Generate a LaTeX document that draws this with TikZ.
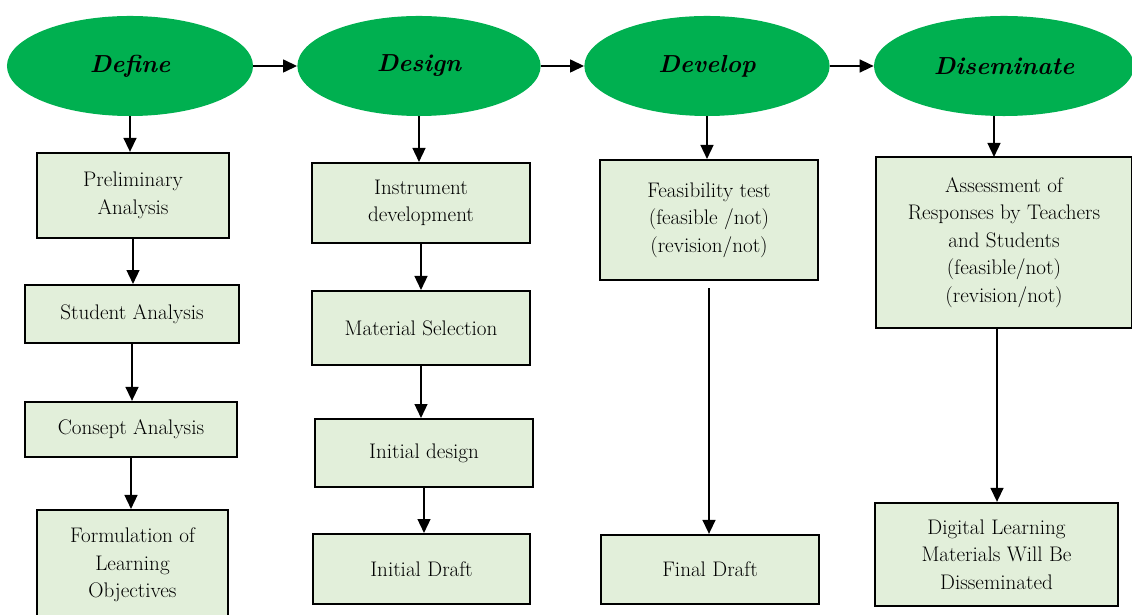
\documentclass[tikz,border=0pt]{standalone}
\usepackage{tikz}
\usetikzlibrary{shapes.geometric,arrows.meta}

\definecolor{stagegreen}{HTML}{00B050}
\definecolor{taskgreen}{HTML}{E2EFDA}

\begin{document}
\begin{tikzpicture}[x=0.025cm,y=-0.025cm,
    stage/.style={ellipse,fill=stagegreen,inner sep=0pt,minimum height=2.5cm,
        font=\fontsize{17.5}{21}\selectfont\bfseries\itshape},
    task/.style={rectangle,draw,line width=1.4pt,fill=taskgreen,align=center,
        inner sep=2pt,font=\fontsize{15}{19.5}\selectfont},
    flow/.style={line width=1.4pt,-{Triangle[length=0.35cm,width=0.32cm]}}]
        % Page size:
        % The picture is cut to the frame, so the last boxes run off the edge
        \useasboundingbox (0,0) rectangle (1132,615);
        \clip (0,0) rectangle (1132,615);

        % Stages:
        \node [stage,minimum width=6.15cm] (def) at (130,66)  {Define};
        \node [stage,minimum width=6.08cm] (des) at (419,66)  {Design};
        \node [stage,minimum width=6.13cm] (dev) at (707,66)  {Develop};
        \node [stage,minimum width=6.5cm]  (dis) at (1004,66) {Diseminate};

        % Define column:
        \node [task,minimum width=4.78cm,minimum height=2.13cm] (prel) at (133,195.5) {Preliminary\\Analysis};
        \node [task,minimum width=5.35cm,minimum height=1.45cm] (stud) at (132,314) {Student Analysis};
        \node [task,minimum width=5.3cm,minimum height=1.38cm]  (cons) at (131,429.5) {Consept Analysis};
        \node [task,minimum width=4.78cm,minimum height=2.75cm] (form) at (132.5,565) {Formulation of\\Learning\\Objectives};

        % Design column:
        \node [task,minimum width=5.45cm,minimum height=2cm]    (inst) at (421,203) {Instrument\\development};
        \node [task,minimum width=5.45cm,minimum height=1.85cm] (matr) at (421,328) {Material Selection};
        \node [task,minimum width=5.43cm,minimum height=1.7cm]  (indes) at (424,453) {Initial design};
        \node [task,minimum width=5.43cm,minimum height=1.75cm] (indra) at (421.5,569) {Initial Draft};

        % Develop column:
        \node [task,minimum width=5.45cm,minimum height=3cm]    (feas) at (709,220) {Feasibility test\\(feasible /not)\\(revision/not)};
        \node [task,minimum width=5.45cm,minimum height=1.73cm] (fin)  at (710,569.5) {Final Draft};

        % Diseminate column:
        \node [task,minimum width=6.4cm,minimum height=4.28cm]  (ass)  at (1004,242.5) {Assessment of\\Responses by Teachers\\and Students\\(feasible/not)\\(revision/not)};
        \node [task,minimum width=6.08cm,minimum height=2.58cm] (dig)  at (996.5,554.5) {Digital Learning\\Materials Will Be\\Disseminated};

        % Arrows between the stages:
        \foreach \a/\b in {def/des,des/dev,dev/dis}{%
            \draw [flow] (\a) -- (\b);
        }
        % Arrows down each column (kept straight down):
        \foreach \a/\b in {def/prel,prel/stud,stud/cons,cons/form,
                           des/inst,inst/matr,matr/indes,indes/indra,dev/feas}{%
            \draw [flow] (\a.south) -- (\a.south |- \b.north);
        }
        \draw [flow,shorten <=5pt] (feas.south) -- (feas.south |- fin.north);
        \draw [flow] (dis.south -| 994,0) -- (994,157);
        \draw [flow] (997,328) -- (dig.north -| 997,0);
\end{tikzpicture}
\end{document}
